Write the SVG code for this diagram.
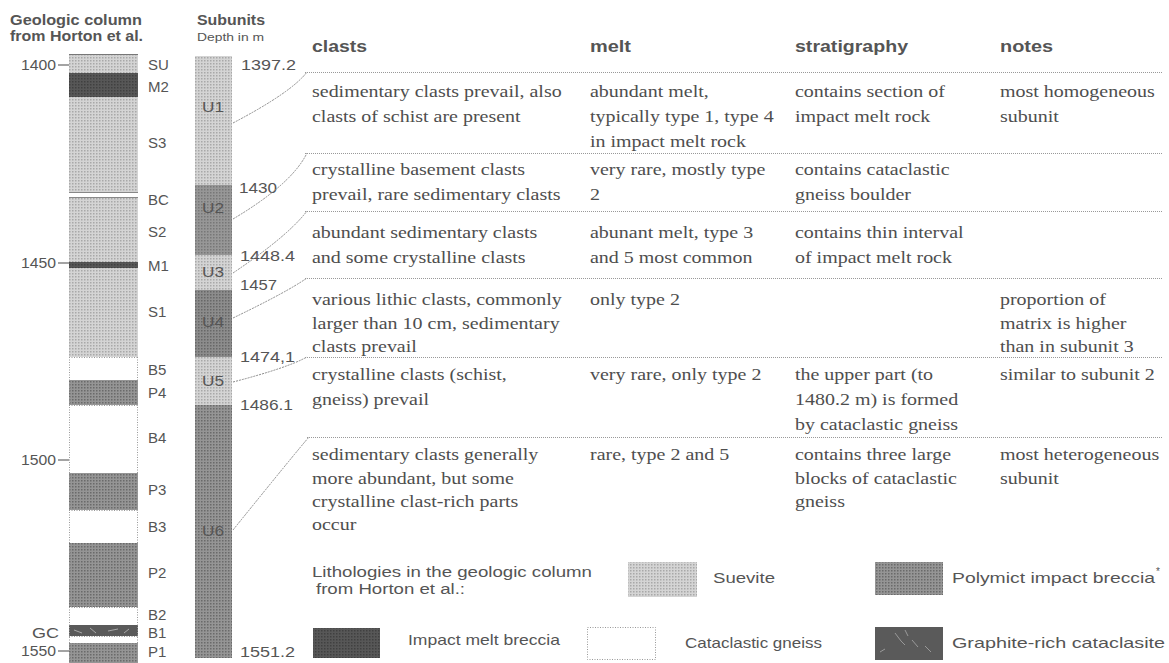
<svg xmlns="http://www.w3.org/2000/svg" width="1169" height="663" viewBox="0 0 1169 663">
<style>
.sans{font-family:"Liberation Sans",Arial,sans-serif;fill:#555}
.b{font-weight:bold}
.lab{font-size:15px}
.dep{font-size:15px}
.ul{font-size:15px;text-anchor:middle}
.serif{font-family:"Liberation Serif","Times New Roman",serif;font-size:17px;fill:#4e4e4e}
.row{stroke:#999;stroke-width:1;stroke-dasharray:1 1;fill:none}
.conn{stroke:#8a8a8a;stroke-width:1;stroke-dasharray:2 1;fill:none}
.edge{stroke:#999;stroke-width:1;stroke-dasharray:1 1.5;fill:none}
.tick{stroke:#666;stroke-width:1.2}
</style>
<defs>
<pattern id="pSue" width="3" height="3" patternUnits="userSpaceOnUse"><rect width="3" height="3" fill="#d4d4d4"/><rect width="1.5" height="1.5" fill="#a8a8a8"/></pattern>
<pattern id="pPoly" width="3" height="3" patternUnits="userSpaceOnUse"><rect width="3" height="3" fill="#959595"/><rect width="1.5" height="1.5" fill="#6a6a6a"/></pattern>
<pattern id="pMelt" width="3" height="3" patternUnits="userSpaceOnUse"><rect width="3" height="3" fill="#575757"/><rect width="1.5" height="1.5" fill="#404040"/></pattern>
</defs>
<rect width="1169" height="663" fill="#fff"/>

<g id="headers">
<text class="sans b" x="10" y="25" font-size="14" textLength="132" lengthAdjust="spacingAndGlyphs">Geologic column</text>
<text class="sans b" x="10" y="41" font-size="14" textLength="133" lengthAdjust="spacingAndGlyphs">from Horton et al.</text>
<text class="sans b" x="197" y="25" font-size="14" textLength="68" lengthAdjust="spacingAndGlyphs">Subunits</text>
<text class="sans" x="197" y="41" font-size="11" textLength="67" lengthAdjust="spacingAndGlyphs">Depth in m</text>
</g>

<g id="geologic-column">
<rect x="69" y="54" width="69" height="19" fill="url(#pSue)"/>
<rect x="69" y="73" width="69" height="24" fill="url(#pMelt)"/>
<rect x="69" y="97" width="69" height="95" fill="url(#pSue)"/>
<rect x="69" y="192" width="69" height="6" fill="#fff"/>
<line x1="69" y1="192.5" x2="138" y2="192.5" stroke="#888"/>
<line x1="69" y1="197.5" x2="138" y2="197.5" stroke="#888"/>
<rect x="69" y="198" width="69" height="64" fill="url(#pSue)"/>
<rect x="69" y="262" width="69" height="6" fill="url(#pMelt)"/>
<rect x="69" y="268" width="69" height="89" fill="url(#pSue)"/>
<rect x="69" y="380" width="69" height="25" fill="url(#pPoly)"/>
<rect x="69" y="473" width="69" height="37" fill="url(#pPoly)"/>
<rect x="69" y="543" width="69" height="64" fill="url(#pPoly)"/>
<rect x="69" y="625" width="69" height="11" fill="#5a5a5a"/>
<path d="M74,630 l8,3 M90,628 l6,5 M108,631 l10,-2 M124,633 l5,-4" stroke="#bbb" stroke-width="0.8" fill="none"/>
<rect x="69" y="643" width="69" height="20" fill="url(#pPoly)"/>
<line x1="69" y1="54.5" x2="138" y2="54.5" stroke="#777"/>
<line class="edge" x1="69.5" y1="357" x2="69.5" y2="663"/>
<line class="edge" x1="137.5" y1="357" x2="137.5" y2="663"/>
<line class="edge" x1="69" y1="357.5" x2="138" y2="357.5"/>
<line class="edge" x1="69" y1="405.5" x2="138" y2="405.5"/>
<line class="edge" x1="69" y1="510.5" x2="138" y2="510.5"/>
<line class="edge" x1="69" y1="607.5" x2="138" y2="607.5"/>
<line class="edge" x1="69" y1="636.5" x2="138" y2="636.5"/>
<line class="tick" x1="58" y1="65" x2="69" y2="65"/>
<line class="tick" x1="58" y1="263" x2="69" y2="263"/>
<line class="tick" x1="58" y1="460" x2="69" y2="460"/>
<line class="tick" x1="58" y1="651" x2="69" y2="651"/>
<text class="sans" x="21" y="70" font-size="15" textLength="35" lengthAdjust="spacingAndGlyphs">1400</text>
<text class="sans" x="21" y="268" font-size="15" textLength="35" lengthAdjust="spacingAndGlyphs">1450</text>
<text class="sans" x="21" y="465" font-size="15" textLength="35" lengthAdjust="spacingAndGlyphs">1500</text>
<text class="sans" x="21" y="656" font-size="15" textLength="35" lengthAdjust="spacingAndGlyphs">1550</text>
<text class="sans" x="32" y="638" font-size="15" textLength="27" lengthAdjust="spacingAndGlyphs">GC</text>
<text class="sans lab" x="148" y="70">SU</text>
<text class="sans lab" x="148" y="92">M2</text>
<text class="sans lab" x="148" y="148">S3</text>
<text class="sans lab" x="148" y="205">BC</text>
<text class="sans lab" x="148" y="237">S2</text>
<text class="sans lab" x="148" y="271">M1</text>
<text class="sans lab" x="148" y="317">S1</text>
<text class="sans lab" x="148" y="375">B5</text>
<text class="sans lab" x="148" y="398">P4</text>
<text class="sans lab" x="148" y="443">B4</text>
<text class="sans lab" x="148" y="495">P3</text>
<text class="sans lab" x="148" y="532">B3</text>
<text class="sans lab" x="148" y="578">P2</text>
<text class="sans lab" x="148" y="620">B2</text>
<text class="sans lab" x="148" y="638">B1</text>
<text class="sans lab" x="148" y="657">P1</text>
</g>

<g id="subunits">
<g id="U1"><rect x="195" y="56" width="37" height="129" fill="url(#pSue)"/><text class="sans ul" x="213" y="112" fill="#888" textLength="22" lengthAdjust="spacingAndGlyphs">U1</text></g>
<g id="U2"><rect x="195" y="185" width="37" height="70" fill="url(#pPoly)"/><rect x="195" y="185" width="37" height="70" fill="#a0a0a0" opacity="0.25"/><text class="sans ul" x="213" y="213" fill="#777" textLength="22" lengthAdjust="spacingAndGlyphs">U2</text></g>
<g id="U3"><rect x="195" y="255" width="37" height="35" fill="url(#pSue)"/><text class="sans ul" x="213" y="277" fill="#888" textLength="22" lengthAdjust="spacingAndGlyphs">U3</text></g>
<g id="U4"><rect x="195" y="290" width="37" height="67" fill="url(#pPoly)"/><rect x="195" y="290" width="37" height="67" fill="#555" opacity="0.12"/><text class="sans ul" x="213" y="327" fill="#6a6a6a" textLength="22" lengthAdjust="spacingAndGlyphs">U4</text></g>
<g id="U5"><rect x="195" y="357" width="37" height="48" fill="url(#pSue)"/><text class="sans ul" x="213" y="386" fill="#888" textLength="22" lengthAdjust="spacingAndGlyphs">U5</text></g>
<g id="U6"><rect x="195" y="405" width="37" height="253" fill="url(#pPoly)"/><text class="sans ul" x="213" y="536" fill="#6a6a6a" textLength="22" lengthAdjust="spacingAndGlyphs">U6</text></g>
<g id="depths">
<text class="sans dep" x="241" y="70" textLength="55" lengthAdjust="spacingAndGlyphs">1397.2</text>
<text class="sans dep" x="239" y="193" textLength="38" lengthAdjust="spacingAndGlyphs">1430</text>
<text class="sans dep" x="240" y="261" textLength="55" lengthAdjust="spacingAndGlyphs">1448.4</text>
<text class="sans dep" x="240" y="290" textLength="37" lengthAdjust="spacingAndGlyphs">1457</text>
<text class="sans dep" x="240" y="362" textLength="55" lengthAdjust="spacingAndGlyphs">1474,1</text>
<text class="sans dep" x="240" y="410" textLength="53" lengthAdjust="spacingAndGlyphs">1486.1</text>
<text class="sans dep" x="240" y="657" textLength="55" lengthAdjust="spacingAndGlyphs">1551.2</text>
</g>
</g>

<g id="connectors">
<path class="conn" d="M233,123 Q292,92 307,72"/>
<path class="conn" d="M233,219 Q292,184 307,153"/>
<path class="conn" d="M233,273 Q288,236 307,211"/>
<path class="conn" d="M233,318 Q287,292 307,278"/>
<path class="conn" d="M233,382 Q287,368 307,357"/>
<path class="conn" d="M233,530 Q296,452 309,437"/>
</g>

<g id="table">
<g id="table-header">
<text class="sans b" x="312" y="52" font-size="16" textLength="55" lengthAdjust="spacingAndGlyphs">clasts</text>
<text class="sans b" x="590" y="52" font-size="16" textLength="41" lengthAdjust="spacingAndGlyphs">melt</text>
<text class="sans b" x="795" y="52" font-size="16" textLength="113" lengthAdjust="spacingAndGlyphs">stratigraphy</text>
<text class="sans b" x="1000" y="52" font-size="16" textLength="53" lengthAdjust="spacingAndGlyphs">notes</text>
</g>
<g id="row-lines">
<line class="row" x1="305" y1="72.5" x2="1163" y2="72.5"/>
<line class="row" x1="305" y1="153.5" x2="1163" y2="153.5"/>
<line class="row" x1="305" y1="211.5" x2="1163" y2="211.5"/>
<line class="row" x1="305" y1="278.5" x2="1163" y2="278.5"/>
<line class="row" x1="305" y1="357.5" x2="1163" y2="357.5"/>
<line class="row" x1="307" y1="437.5" x2="1163" y2="437.5"/>
</g>
<g id="row1" class="serif" transform="scale(1.176 1)">
<text class="serif" x="265.3" y="97">sedimentary clasts prevail, also</text>
<text class="serif" x="265.3" y="122">clasts of schist are present</text>
<text class="serif" x="501.7" y="97">abundant melt,</text>
<text class="serif" x="501.7" y="122">typically type 1, type 4</text>
<text class="serif" x="501.7" y="147">in impact melt rock</text>
<text class="serif" x="676" y="97">contains section of</text>
<text class="serif" x="676" y="122">impact melt rock</text>
<text class="serif" x="850.3" y="97">most homogeneous</text>
<text class="serif" x="850.3" y="122">subunit</text>
</g>
<g id="row2" transform="scale(1.176 1)">
<text class="serif" x="265.3" y="175">crystalline basement clasts</text>
<text class="serif" x="265.3" y="200">prevail, rare sedimentary clasts</text>
<text class="serif" x="501.7" y="175">very rare, mostly type</text>
<text class="serif" x="501.7" y="200">2</text>
<text class="serif" x="676" y="175">contains cataclastic</text>
<text class="serif" x="676" y="200">gneiss boulder</text>
</g>
<g id="row3" transform="scale(1.176 1)">
<text class="serif" x="265.3" y="238">abundant sedimentary clasts</text>
<text class="serif" x="265.3" y="263">and some crystalline clasts</text>
<text class="serif" x="501.7" y="238">abunant melt, type 3</text>
<text class="serif" x="501.7" y="263">and 5 most common</text>
<text class="serif" x="676" y="238">contains thin interval</text>
<text class="serif" x="676" y="263">of impact melt rock</text>
</g>
<g id="row4" transform="scale(1.176 1)">
<text class="serif" x="265.3" y="305">various lithic clasts, commonly</text>
<text class="serif" x="265.3" y="329">larger than 10 cm, sedimentary</text>
<text class="serif" x="265.3" y="352">clasts prevail</text>
<text class="serif" x="501.7" y="305">only type 2</text>
<text class="serif" x="850.3" y="305">proportion of</text>
<text class="serif" x="850.3" y="329">matrix is higher</text>
<text class="serif" x="850.3" y="352">than in subunit 3</text>
</g>
<g id="row5" transform="scale(1.176 1)">
<text class="serif" x="265.3" y="380">crystalline clasts (schist,</text>
<text class="serif" x="265.3" y="405">gneiss) prevail</text>
<text class="serif" x="501.7" y="380">very rare, only type 2</text>
<text class="serif" x="676" y="380">the upper part (to</text>
<text class="serif" x="676" y="405">1480.2 m) is formed</text>
<text class="serif" x="676" y="430">by cataclastic gneiss</text>
<text class="serif" x="850.3" y="380">similar to subunit 2</text>
</g>
<g id="row6" transform="scale(1.176 1)">
<text class="serif" x="265.3" y="460">sedimentary clasts generally</text>
<text class="serif" x="265.3" y="484">more abundant, but some</text>
<text class="serif" x="265.3" y="507">crystalline clast-rich parts</text>
<text class="serif" x="265.3" y="530">occur</text>
<text class="serif" x="501.7" y="460">rare, type 2 and 5</text>
<text class="serif" x="676" y="460">contains three large</text>
<text class="serif" x="676" y="484">blocks of cataclastic</text>
<text class="serif" x="676" y="507">gneiss</text>
<text class="serif" x="850.3" y="460">most heterogeneous</text>
<text class="serif" x="850.3" y="484">subunit</text>
</g>
</g>

<g id="legend">
<g id="legend-title">
<text class="sans" x="312" y="577" font-size="14" textLength="280" lengthAdjust="spacingAndGlyphs">Lithologies in the geologic column</text>
<text class="sans" x="316" y="594" font-size="14" textLength="149" lengthAdjust="spacingAndGlyphs">from Horton et al.:</text>
</g>
<g id="legend-suevite">
<rect x="628" y="562" width="69" height="35" fill="url(#pSue)"/>
<text class="sans" x="713" y="583" font-size="15" textLength="62" lengthAdjust="spacingAndGlyphs">Suevite</text>
</g>
<g id="legend-polymict">
<rect x="875" y="562" width="68" height="33" fill="url(#pPoly)"/>
<text class="sans" x="952" y="583" font-size="15" textLength="203" lengthAdjust="spacingAndGlyphs">Polymict impact breccia</text>
<text class="sans" x="1156" y="575" font-size="10">*</text>
</g>
<g id="legend-melt">
<rect x="313" y="628" width="67" height="30" fill="url(#pMelt)"/>
<text class="sans" x="408" y="645" font-size="15" textLength="152" lengthAdjust="spacingAndGlyphs">Impact melt breccia</text>
</g>
<g id="legend-gneiss">
<rect class="edge" x="587.5" y="627.5" width="68" height="32"/>
<text class="sans" x="685" y="648" font-size="15" textLength="137" lengthAdjust="spacingAndGlyphs">Cataclastic gneiss</text>
</g>
<g id="legend-graphite">
<rect x="875" y="627" width="68" height="33" fill="#5a5a5a"/>
<path d="M895,633 l6,8 l4,4 M905,630 l3,6 M912,640 l6,7 M880,652 l5,-3 M925,646 l6,6" stroke="#aaa" stroke-width="0.8" fill="none"/>
<text class="sans" x="952" y="648" font-size="15" textLength="213" lengthAdjust="spacingAndGlyphs">Graphite-rich cataclasite</text>
</g>
</g>
</svg>
